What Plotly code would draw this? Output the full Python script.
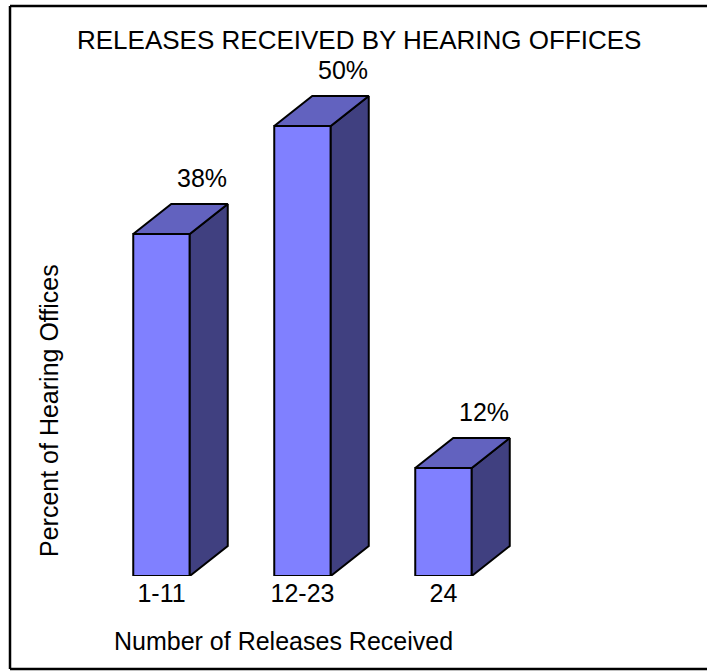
import plotly.graph_objects as go

# ---- data ----
categories = ["1-11", "12-23", "24"]
percents = [38, 50, 12]
value_labels = ["38%", "50%", "12%"]
title_text = "RELEASES RECEIVED BY HEARING OFFICES"
x_title = "Number of Releases Received"
y_title = "Percent of Hearing Offices"

# ---- geometry / style ----
W, H = 707, 671
L, R, T, B = 100, 87, 50, 95
PW, PH = W - L - R, H - T - B
px_per_unit_x = 141.0
px_per_pct = 9.0
first_center_px = 161.5
x0 = (L - first_center_px) / px_per_unit_x
x1 = x0 + PW / px_per_unit_x
y_top = PH / px_per_pct

bar_w = 56.5 / px_per_unit_x
dx = 38 / px_per_unit_x
dy = 30 / px_per_pct

FRONT = "#8080FF"
TOP = "#6262BF"
SIDE = "#404080"
FONT = "Liberation Sans, Arial, sans-serif"

pos = list(range(len(categories)))

fig = go.Figure()
fig.add_trace(go.Bar(x=pos, y=percents, width=bar_w,
                     marker=dict(color=FRONT, line=dict(color="black", width=2)),
                     hoverinfo="skip", showlegend=False))

for p, v in zip(pos, percents):
    xl, xr = p - bar_w / 2, p + bar_w / 2
    # side face
    fig.add_trace(go.Scatter(x=[xr, xr, xr + dx, xr + dx, xr],
                             y=[0, v, v + dy, dy, 0],
                             fill="toself", fillcolor=SIDE, mode="lines",
                             line=dict(color="black", width=2),
                             hoverinfo="skip", showlegend=False))
    # top face
    fig.add_trace(go.Scatter(x=[xl, xl + dx, xr + dx, xr, xl],
                             y=[v, v + dy, v + dy, v, v],
                             fill="toself", fillcolor=TOP, mode="lines",
                             line=dict(color="black", width=2),
                             hoverinfo="skip", showlegend=False))

annotations = []
for p, v, t in zip(pos, percents, value_labels):
    annotations.append(dict(x=p + 40 / px_per_unit_x, y=v + dy, text=t,
                            xref="x", yref="y", showarrow=False,
                            yshift=26, font=dict(size=25, color="black", family=FONT)))

def xp(px):
    return (px - L) / PW

def yp(py):
    return (H - B - py) / PH

annotations.append(dict(x=xp(283), y=yp(641), xref="paper", yref="paper",
                        text=x_title, showarrow=False,
                        xanchor="center", yanchor="middle",
                        font=dict(size=25, color="black", family=FONT)))
annotations.append(dict(x=xp(49), y=yp(411), xref="paper", yref="paper",
                        text=y_title, showarrow=False, textangle=-90,
                        xanchor="center", yanchor="middle",
                        font=dict(size=25, color="black", family=FONT)))
annotations.append(dict(x=xp(359), y=yp(40), xref="paper", yref="paper",
                        text=title_text, showarrow=False,
                        xanchor="center", yanchor="middle",
                        font=dict(size=26, color="black", family=FONT)))

border = dict(color="black", width=2.5)
shapes = [
    dict(type="line", xref="paper", yref="paper", x0=xp(10), x1=xp(10),
         y0=yp(669), y1=yp(6), line=border, layer="below"),
    dict(type="line", xref="paper", yref="paper", x0=xp(10), x1=xp(760),
         y0=yp(6), y1=yp(6), line=border, layer="below"),
    dict(type="line", xref="paper", yref="paper", x0=xp(10), x1=xp(760),
         y0=yp(669), y1=yp(669), line=border, layer="below"),
]

fig.update_layout(
    width=W, height=H,
    margin=dict(l=L, r=R, t=T, b=B),
    paper_bgcolor="white", plot_bgcolor="white",
    annotations=annotations,
    shapes=shapes,
    xaxis=dict(range=[x0, x1], tickvals=pos, ticktext=categories,
               showgrid=False, zeroline=False, showline=False, ticks="",
               tickfont=dict(size=25, color="black", family=FONT)),
    yaxis=dict(range=[0, y_top], showgrid=False, zeroline=False,
               showline=False, showticklabels=False, ticks=""),
    font=dict(family=FONT, color="black"),
)

fig.write_html("out.html")
